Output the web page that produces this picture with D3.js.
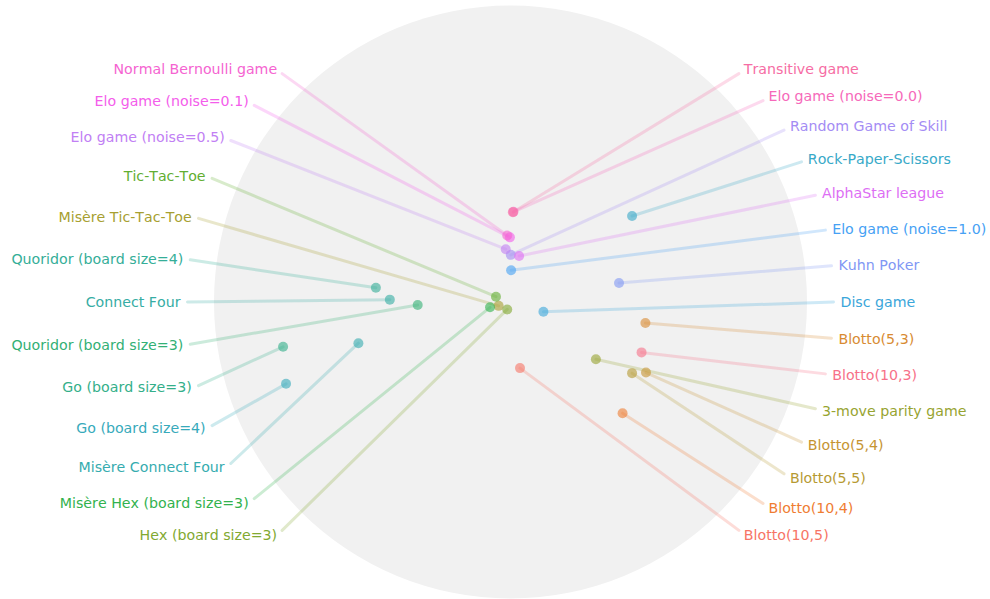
<!DOCTYPE html>
<html>
<head>
<meta charset="utf-8">
<script src="https://cdn.jsdelivr.net/npm/d3@7"></script>
<style>
  html, body { margin: 0; padding: 0; background: #ffffff; }
  svg { display: block; }
  text { font-family: "DejaVu Sans", sans-serif; font-size: 14.2px; font-kerning: none; }
</style>
</head>
<body>
<svg id="chart" width="990" height="599"></svg>
<script>
// ---------- DATA ----------
// games listed in palette (hue) order
const games = [
  "Blotto(10,3)", "Blotto(10,5)", "Blotto(10,4)", "Blotto(5,3)", "Blotto(5,4)", "Blotto(5,5)",
  "Misère Tic-Tac-Toe", "3-move parity game", "Hex (board size=3)", "Tic-Tac-Toe",
  "Misère Hex (board size=3)", "Quoridor (board size=3)", "Go (board size=3)",
  "Quoridor (board size=4)", "Connect Four", "Misère Connect Four", "Go (board size=4)",
  "Rock-Paper-Scissors", "Disc game", "Elo game (noise=1.0)", "Kuhn Poker",
  "Random Game of Skill", "Elo game (noise=0.5)", "AlphaStar league",
  "Elo game (noise=0.1)", "Normal Bernoulli game", "Elo game (noise=0.0)", "Transitive game"
];
// embedding coordinates (unit disk)
const xValues = [
   0.442,  0.032,  0.378,  0.455,  0.457,  0.410,
  -0.040,  0.288, -0.011, -0.049,
  -0.069, -0.313, -0.767,
  -0.454, -0.407, -0.513, -0.757,
   0.410,  0.111,  0.002,  0.366,
   0.001, -0.016,  0.029,
  -0.002, -0.011,  0.010,  0.008
];
const yValues = [
  -0.170, -0.223, -0.375, -0.071, -0.238, -0.240,
  -0.013, -0.193, -0.025,  0.018,
  -0.018, -0.010, -0.151,
   0.048,  0.008, -0.139, -0.276,
   0.290, -0.033,  0.107,  0.064,
   0.159,  0.178,  0.155,
   0.218,  0.224,  0.304,  0.303
];
// label order around the disk
const leftLabels = [
  "Normal Bernoulli game", "Elo game (noise=0.1)", "Elo game (noise=0.5)", "Tic-Tac-Toe",
  "Misère Tic-Tac-Toe", "Quoridor (board size=4)", "Connect Four", "Quoridor (board size=3)",
  "Go (board size=3)", "Go (board size=4)", "Misère Connect Four",
  "Misère Hex (board size=3)", "Hex (board size=3)"
];
const rightLabels = [
  "Transitive game", "Elo game (noise=0.0)", "Random Game of Skill", "Rock-Paper-Scissors",
  "AlphaStar league", "Elo game (noise=1.0)", "Kuhn Poker", "Disc game",
  "Blotto(5,3)", "Blotto(10,3)", "3-move parity game", "Blotto(5,4)", "Blotto(5,5)",
  "Blotto(10,4)", "Blotto(10,5)"
];

// ---------- HUSL palette (seaborn style) ----------
const M = [[3.240969941904521, -1.537383177570093, -0.498610760293],
           [-0.96924363628087, 1.87596750150772, 0.041555057407175],
           [0.055630079696993, -0.20397695888897, 1.056971514242878]];
const refU = 0.19783000664283, refV = 0.46831999493879;
const kappa = 903.2962962, epsilon = 0.0088564516;
function getBounds(L) {
  const res = [];
  const sub1 = Math.pow(L + 16, 3) / 1560896;
  const sub2 = sub1 > epsilon ? sub1 : L / kappa;
  for (let c = 0; c < 3; c++) {
    const [m1, m2, m3] = M[c];
    for (let t = 0; t < 2; t++) {
      const top1 = (284517 * m1 - 94839 * m3) * sub2;
      const top2 = (838422 * m3 + 769860 * m2 + 731718 * m1) * L * sub2 - 769860 * t * L;
      const bottom = (632260 * m3 - 126452 * m2) * sub2 + 126452 * t;
      res.push([top1 / bottom, top2 / bottom]);
    }
  }
  return res;
}
function maxChroma(L, H) {
  const h = H / 360 * 2 * Math.PI;
  let mn = Infinity;
  for (const [s, i] of getBounds(L)) {
    const len = i / (Math.sin(h) - s * Math.cos(h));
    if (len >= 0) mn = Math.min(mn, len);
  }
  return mn;
}
function fromLinear(c) {
  return c <= 0.0031308 ? 12.92 * c : 1.055 * Math.pow(c, 1 / 2.4) - 0.055;
}
function husl(H, S, L) {
  const C = maxChroma(L, H) / 100 * S;
  const h = H / 360 * 2 * Math.PI;
  const U = Math.cos(h) * C, V = Math.sin(h) * C;
  const Y = L <= 8 ? L / kappa : Math.pow((L + 16) / 116, 3);
  const vu = U / (13 * L) + refU, vv = V / (13 * L) + refV;
  const X = 9 * Y * vu / (4 * vv);
  const Z = (9 * Y - 15 * vv * Y - vv * X) / (3 * vv);
  const rgb = M.map(r => fromLinear(r[0] * X + r[1] * Y + r[2] * Z));
  return d3.rgb(...rgb.map(v => Math.max(0, Math.min(255, Math.round(v * 255))))).formatHex();
}
const palette = games.map((g, i) => husl(((i / games.length + 0.01) % 1) * 359, 0.9 * 99, 0.65 * 99));

// ---------- LAYOUT ----------
const svg = d3.select("#chart");
const cx = 510.5, cy = 302, R = 296.5;
const x = d3.scaleLinear().domain([-1, 1]).range([cx - R, cx + R]);
const y = d3.scaleLinear().domain([-1, 1]).range([cy + R, cy - R]);
const rText = 330, rLine = 323;

const color = d3.scaleOrdinal().domain(games).range(palette);
const idx = new Map(games.map((g, i) => [g, i]));

const labelPos = [];
const leftAngle = d3.scaleLinear().domain([0, leftLabels.length - 1]).range([135, 225]);
leftLabels.forEach((g, i) => labelPos.push({ g, a: leftAngle(i), side: "left" }));
const rightAngle = d3.scaleLinear().domain([0, rightLabels.length - 1]).range([45, -45]);
rightLabels.forEach((g, i) => labelPos.push({ g, a: rightAngle(i), side: "right" }));
labelPos.forEach(d => {
  const rad = d.a * Math.PI / 180;
  d.tx = cx + rText * Math.cos(rad);
  d.ty = cy - rText * Math.sin(rad);
  d.lx = cx + rLine * Math.cos(rad);
  d.ly = cy - rLine * Math.sin(rad);
  const i = idx.get(d.g);
  d.px = x(xValues[i]);
  d.py = y(yValues[i]);
});

// disk
svg.append("circle")
  .attr("cx", cx).attr("cy", cy).attr("r", R)
  .attr("fill", "#f1f1f1");

// connector lines
svg.append("g").selectAll("line").data(labelPos).join("line")
  .attr("x1", d => d.lx).attr("y1", d => d.ly)
  .attr("x2", d => d.px).attr("y2", d => d.py)
  .attr("stroke", d => color(d.g))
  .attr("stroke-width", 3)
  .attr("stroke-opacity", 0.25)
  .attr("stroke-linecap", "round");

// points
svg.append("g").selectAll("circle").data(games).join("circle")
  .attr("cx", (g, i) => x(xValues[i]))
  .attr("cy", (g, i) => y(yValues[i]))
  .attr("r", 5)
  .attr("fill", g => color(g))
  .attr("fill-opacity", 0.6);

// labels
svg.append("g").selectAll("text").data(labelPos).join("text")
  .attr("x", d => d.tx).attr("y", d => d.ty)
  .attr("text-anchor", d => d.side === "left" ? "end" : "start")
  .attr("dominant-baseline", "central")
  .attr("fill", d => color(d.g))
  .text(d => d.g);
</script>
</body>
</html>
